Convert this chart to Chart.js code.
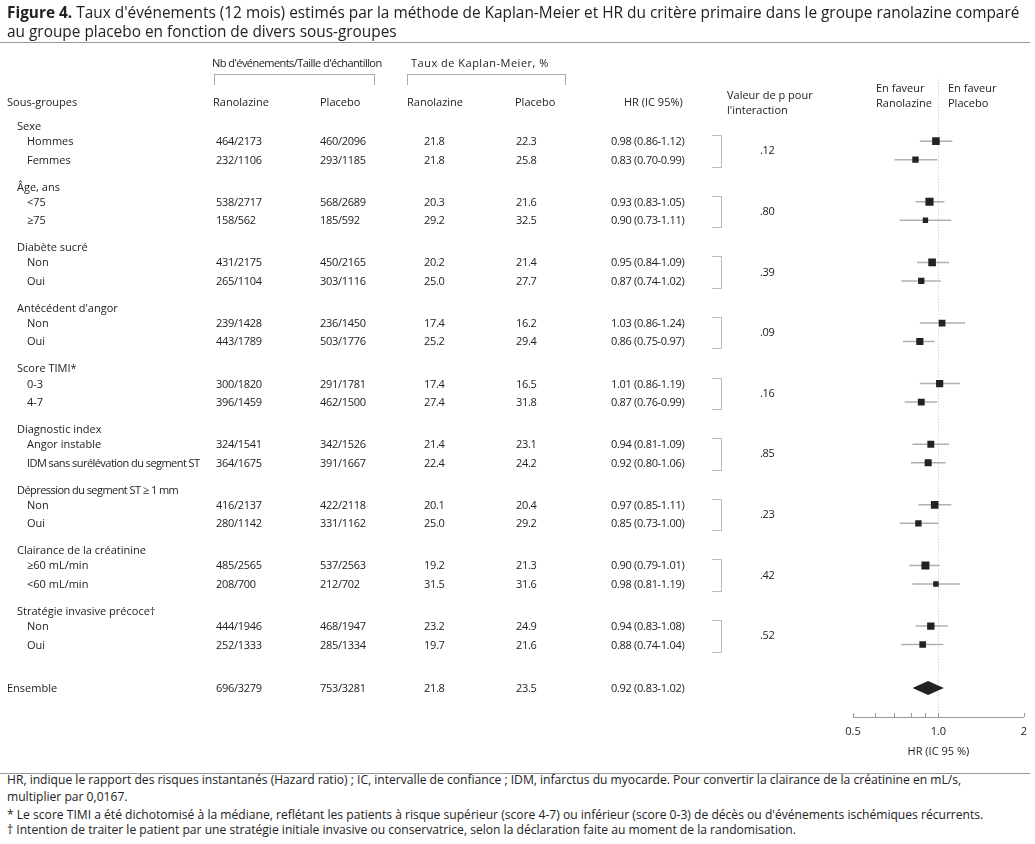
<!DOCTYPE html>
<html lang="fr">
<head>
    <meta charset="UTF-8" />
    <title>Figure 4 - Ranolazine vs placebo par sous-groupes</title>

    <script src="https://cdn.jsdelivr.net/npm/chart.js"></script>

    <style>
        body {
            margin: 0;
            background: #fff;
            font-family: 'Open Sans', Arial, sans-serif;
            color: #222;
        }
        #page {
            position: relative;
            width: 1035px;
            height: 844px;
            overflow: hidden;
        }
        #forest { position: absolute; left: 0; top: 0; }

        .t {
            position: absolute;
            white-space: nowrap;
            font-size: 11px;
            line-height: 14px;
        }
        .num { letter-spacing: -0.3px; }
        .tight { letter-spacing: -0.55px; }

        .caption {
            position: absolute;
            left: 7px;
            white-space: nowrap;
            font-size: 15.4px;
            line-height: 18px;
            color: #222;
        }
        .caption b { font-weight: 700; }

        .rule {
            position: absolute;
            left: 0;
            width: 1030px;
            border-top: 1px solid #999;
        }
        .bracket {
            position: absolute;
            border: 1px solid #aaa;
            border-bottom: none;
        }
        .pbracket {
            position: absolute;
            border: 1px solid #bbb;
            border-left: none;
        }
        .note {
            position: absolute;
            left: 7px;
            white-space: nowrap;
            font-size: 12.1px;
            line-height: 16px;
        }
    </style>
</head>
<body>
<div id="page">
    <canvas id="forest" width="1035" height="770"></canvas>

    <div class="caption" style="top:4px"><b>Figure 4.</b> Taux d'événements (12 mois) estimés par la méthode de Kaplan-Meier et HR du critère primaire dans le groupe ranolazine comparé</div>
    <div class="caption" style="top:23px">au groupe placebo en fonction de divers sous-groupes</div>
    <div class="rule" style="top:42px"></div>

    <div class="t tight" style="left:212px; top:56px">Nb d'événements/Taille d'échantillon</div>
    <div class="t" style="left:411px; top:56px; letter-spacing:0.5px">Taux de Kaplan-Meier, %</div>
    <div class="bracket" style="left:214px; top:74px; width:159px; height:10px"></div>
    <div class="bracket" style="left:407px; top:74px; width:157px; height:10px"></div>

    <div class="t" style="left:7px; top:95px">Sous-groupes</div>
    <div class="t" style="left:213px; top:95px">Ranolazine</div>
    <div class="t" style="left:320px; top:95px">Placebo</div>
    <div class="t" style="left:407px; top:95px">Ranolazine</div>
    <div class="t" style="left:515px; top:95px">Placebo</div>
    <div class="t" style="left:624px; top:95px">HR (IC 95%)</div>
    <div class="t" style="left:727px; top:88px">Valeur de p pour</div>
    <div class="t" style="left:727px; top:103px">l'interaction</div>
    <div class="t" style="left:876px; top:81px">En faveur</div>
    <div class="t" style="left:876px; top:96px">Ranolazine</div>
    <div class="t" style="left:948px; top:81px">En faveur</div>
    <div class="t" style="left:948px; top:96px">Placebo</div>

    <div class="rule" style="top:773px"></div>
    <div class="note" style="top:772px">HR, indique le rapport des risques instantanés (Hazard ratio) ; IC, intervalle de confiance ; IDM, infarctus du myocarde. Pour convertir la clairance de la créatinine en mL/s,</div>
    <div class="note" style="top:789px">multiplier par 0,0167.</div>
    <div class="note" style="top:807px">* Le score TIMI a été dichotomisé à la médiane, reflétant les patients à risque supérieur (score 4-7) ou inférieur (score 0-3) de décès ou d'événements ischémiques récurrents.</div>
    <div class="note" style="top:822px">† Intention de traiter le patient par une stratégie initiale invasive ou conservatrice, selon la déclaration faite au moment de la randomisation.</div>
</div>

<script>
    const groupNames = ['Sexe', 'Âge, ans', 'Diabète sucré', "Antécédent d'angor", 'Score TIMI*',
        'Diagnostic index', 'Dépression du segment ST ≥ 1 mm', 'Clairance de la créatinine', 'Stratégie invasive précoce†'];

    // two subgroups per group, then the overall row
    const rowLabels = ['Hommes', 'Femmes', '<75', '≥75', 'Non', 'Oui', 'Non', 'Oui', '0-3', '4-7',
        'Angor instable', 'IDM sans surélévation du segment ST', 'Non', 'Oui', '≥60 mL/min', '<60 mL/min',
        'Non', 'Oui', 'Ensemble'];

    const ranoEvents = [464, 232, 538, 158, 431, 265, 239, 443, 300, 396, 324, 364, 416, 280, 485, 208, 444, 252, 696];
    const ranoTotal  = [2173, 1106, 2717, 562, 2175, 1104, 1428, 1789, 1820, 1459, 1541, 1675, 2137, 1142, 2565, 700, 1946, 1333, 3279];
    const placEvents = [460, 293, 568, 185, 450, 303, 236, 503, 291, 462, 342, 391, 422, 331, 537, 212, 468, 285, 753];
    const placTotal  = [2096, 1185, 2689, 592, 2165, 1116, 1450, 1776, 1781, 1500, 1526, 1667, 2118, 1162, 2563, 702, 1947, 1334, 3281];

    const kmRano = [21.8, 21.8, 20.3, 29.2, 20.2, 25.0, 17.4, 25.2, 17.4, 27.4, 21.4, 22.4, 20.1, 25.0, 19.2, 31.5, 23.2, 19.7, 21.8];
    const kmPlac = [22.3, 25.8, 21.6, 32.5, 21.4, 27.7, 16.2, 29.4, 16.5, 31.8, 23.1, 24.2, 20.4, 29.2, 21.3, 31.6, 24.9, 21.6, 23.5];

    const hr     = [0.98, 0.83, 0.93, 0.90, 0.95, 0.87, 1.03, 0.86, 1.01, 0.87, 0.94, 0.92, 0.97, 0.85, 0.90, 0.98, 0.94, 0.88, 0.92];
    const hrLow  = [0.86, 0.70, 0.83, 0.73, 0.84, 0.74, 0.86, 0.75, 0.86, 0.76, 0.81, 0.80, 0.85, 0.73, 0.79, 0.81, 0.83, 0.74, 0.83];
    const hrHigh = [1.12, 0.99, 1.05, 1.11, 1.09, 1.02, 1.24, 0.97, 1.19, 0.99, 1.09, 1.06, 1.11, 1.00, 1.01, 1.19, 1.08, 1.04, 1.02];

    const pInteraction = ['.12', '.80', '.39', '.09', '.16', '.85', '.23', '.42', '.52'];

    const xTickValues = [0.5, 0.6, 0.7, 0.8, 0.9, 1, 2];
    const xTickLabels = ['0.5', '', '', '', '', '1.0', '2'];

    const OVERALL = 18;
    const SUB_OFFSET = [0.25, 0.555];

    // vertical slot of a row: one unit per group, subgroups sit under the group title
    function rowY(i) {
        if (i === OVERALL) return 9.27;
        return Math.floor(i / 2) + SUB_OFFSET[i % 2];
    }

    Chart.defaults.font.family = "'Open Sans', Arial, sans-serif";
    Chart.defaults.color = '#222';

    const forestExtras = {
        id: 'forestExtras',
        beforeDatasetsDraw(chart) {
            const { ctx, chartArea, scales: { x } } = chart;
            const px = Math.round(x.getPixelForValue(1)) + 0.5;
            ctx.save();
            ctx.strokeStyle = '#c4c4c4';
            ctx.lineWidth = 1;
            ctx.setLineDash([1, 2]);
            ctx.beginPath();
            ctx.moveTo(px, chartArea.top - 16);
            ctx.lineTo(px, chartArea.bottom);
            ctx.stroke();
            ctx.restore();
        },
        afterDatasetsDraw(chart) {
            const { ctx, scales: { x, y } } = chart;
            const yc = y.getPixelForValue(rowY(OVERALL));
            const xl = x.getPixelForValue(hrLow[OVERALL]);
            const xm = x.getPixelForValue(hr[OVERALL]);
            const xr = x.getPixelForValue(hrHigh[OVERALL]);
            ctx.save();
            ctx.fillStyle = '#222';
            ctx.beginPath();
            ctx.moveTo(xl - 3, yc);
            ctx.lineTo(xm, yc - 7);
            ctx.lineTo(xr + 3, yc);
            ctx.lineTo(xm, yc + 7);
            ctx.closePath();
            ctx.fill();
            ctx.restore();
        },
        afterDraw(chart) {
            const { ctx, scales: { x } } = chart;
            ctx.save();
            ctx.strokeStyle = '#999';
            ctx.lineWidth = 1;
            ctx.beginPath();
            x.ticks.forEach(t => {
                const px = Math.round(x.getPixelForValue(t.value)) + 0.5;
                ctx.moveTo(px, x.top);
                ctx.lineTo(px, x.top - 4);
            });
            ctx.stroke();
            ctx.restore();
        }
    };

    const subRows = rowLabels.map((_, i) => i).filter(i => i !== OVERALL);

    // square side grows with the subgroup size
    const sideFor = i => 3 + 0.07 * Math.sqrt(ranoTotal[i] + placTotal[i]);

    const squares = {
        label: 'HR',
        data: subRows.map(i => ({ x: hr[i], y: rowY(i) })),
        pointStyle: 'rect',
        pointRadius: subRows.map(i => sideFor(i) / Math.SQRT2),
        backgroundColor: '#222',
        borderWidth: 0,
        order: 0
    };

    const ciLines = subRows.map(i => ({
        type: 'line',
        label: rowLabels[i],
        data: [{ x: hrLow[i], y: rowY(i) }, { x: hrHigh[i], y: rowY(i) }],
        showLine: true,
        borderColor: '#b0b0b0',
        borderWidth: 1.5,
        pointRadius: 0,
        order: 1
    }));

    const chart = new Chart(document.getElementById('forest'), {
        type: 'scatter',
        data: { datasets: [squares, ...ciLines] },
        options: {
            responsive: false,
            animation: false,
            layout: { padding: { left: 853, right: 11, top: 95.7, bottom: 8 } },
            plugins: { legend: { display: false }, tooltip: { enabled: false } },
            scales: {
                x: {
                    type: 'logarithmic',
                    min: 0.5,
                    max: 2,
                    afterBuildTicks: scale => { scale.ticks = xTickValues.map(v => ({ value: v })); },
                    afterFit: scale => { scale.height = 45; },
                    ticks: {
                        autoSkip: false,
                        maxRotation: 0,
                        padding: 8,
                        font: { size: 11 },
                        callback: (value, index) => xTickLabels[index]
                    },
                    grid: { display: false, drawTicks: false },
                    border: { display: true, color: '#999' },
                    title: { display: true, text: 'HR (IC 95 %)', font: { size: 11 }, padding: { top: 0, bottom: 4 } }
                },
                y: { type: 'linear', display: false, reverse: true, min: -0.5, max: 9.75 }
            }
        },
        plugins: [forestExtras]
    });

    // table text placed on the same rows as the chart marks
    const page = document.getElementById('page');
    const yPx = v => chart.scales.y.getPixelForValue(v);

    function put(text, left, yc, cls) {
        const d = document.createElement('div');
        d.className = 't' + (cls ? ' ' + cls : '');
        d.textContent = text;
        d.style.left = left + 'px';
        d.style.top = (yc - 7) + 'px';
        page.appendChild(d);
        return d;
    }

    groupNames.forEach((g, k) => {
        put(g, 17, yPx(k), g.length > 28 ? 'tight' : '');
        const a = yPx(rowY(2 * k)), b = yPx(rowY(2 * k + 1));
        put(pInteraction[k], 760, (a + b) / 2, 'num');
        const br = document.createElement('div');
        br.className = 'pbracket';
        br.style.left = '712px';
        br.style.width = '9px';
        br.style.top = (a - 6) + 'px';
        br.style.height = (b - a + 12) + 'px';
        page.appendChild(br);
    });

    rowLabels.forEach((lab, i) => {
        const yc = yPx(rowY(i));
        put(lab, i === OVERALL ? 7 : 27, yc, lab.length > 28 ? 'tight' : '');
        put(ranoEvents[i] + '/' + ranoTotal[i], 216, yc, 'num');
        put(placEvents[i] + '/' + placTotal[i], 320, yc, 'num');
        put(kmRano[i].toFixed(1), 424, yc, 'num');
        put(kmPlac[i].toFixed(1), 516, yc, 'num');
        put(hr[i].toFixed(2) + ' (' + hrLow[i].toFixed(2) + '-' + hrHigh[i].toFixed(2) + ')', 611, yc, 'num');
    });
</script>
</body>
</html>
